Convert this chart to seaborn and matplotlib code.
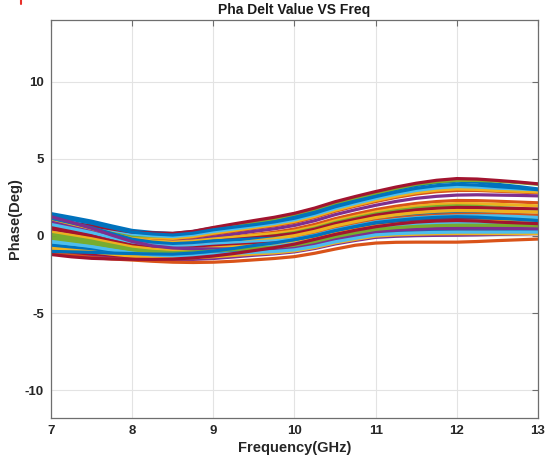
import matplotlib
matplotlib.use("Agg")
import matplotlib.pyplot as plt
from matplotlib.lines import Line2D
import pandas as pd
import seaborn as sns

# Measurement frequencies (GHz), 0.25 GHz step
freq_ghz = [7.00, 7.25, 7.50, 7.75, 8.00, 8.25, 8.50, 8.75, 9.00, 9.25, 9.50, 9.75, 10.00,
            10.25, 10.50, 10.75, 11.00, 11.25, 11.50, 11.75, 12.00, 12.25, 12.50, 12.75, 13.00]

# Phase delta per channel (deg), one list per channel
ch01 = [1.45, 1.21, 0.96, 0.65, 0.36, 0.23, 0.16, 0.29, 0.52, 0.70, 0.88, 1.05, 1.28, 1.62, 2.04, 2.39, 2.71, 3.01, 3.27, 3.46, 3.55, 3.49, 3.35, 3.21, 3.05]
ch02 = [0.70, 0.53, 0.35, 0.13, -0.08, -0.17, -0.22, -0.11, 0.10, 0.29, 0.48, 0.65, 0.88, 1.20, 1.60, 1.93, 2.23, 2.50, 2.72, 2.87, 2.95, 2.95, 2.90, 2.85, 2.80]
ch03 = [0.85, 0.66, 0.47, 0.23, 0.00, -0.10, -0.15, -0.03, 0.18, 0.36, 0.54, 0.72, 0.95, 1.27, 1.67, 2.00, 2.31, 2.58, 2.81, 2.97, 3.05, 3.02, 2.95, 2.90, 2.85]
ch04 = [0.40, 0.25, 0.10, -0.09, -0.27, -0.35, -0.39, -0.28, -0.08, 0.11, 0.30, 0.46, 0.68, 0.99, 1.38, 1.70, 1.99, 2.24, 2.44, 2.57, 2.65, 2.67, 2.65, 2.63, 2.60]
ch05 = [0.55, 0.43, 0.31, 0.15, 0.01, 0.00, 0.03, 0.15, 0.35, 0.61, 0.88, 1.12, 1.42, 1.75, 2.15, 2.48, 2.78, 3.08, 3.35, 3.51, 3.60, 3.60, 3.55, 3.46, 3.35]
ch06 = [1.10, 0.88, 0.66, 0.39, 0.13, 0.02, -0.04, 0.08, 0.29, 0.46, 0.63, 0.81, 1.05, 1.38, 1.78, 2.11, 2.43, 2.71, 2.95, 3.11, 3.20, 3.17, 3.10, 3.05, 3.00]
ch07 = [1.00, 0.83, 0.66, 0.45, 0.25, 0.20, 0.17, 0.30, 0.55, 0.78, 1.00, 1.21, 1.47, 1.81, 2.22, 2.56, 2.88, 3.17, 3.42, 3.61, 3.72, 3.69, 3.60, 3.50, 3.38]
ch08 = [1.30, 1.07, 0.83, 0.53, 0.25, 0.13, 0.06, 0.18, 0.40, 0.57, 0.73, 0.91, 1.15, 1.48, 1.89, 2.23, 2.55, 2.84, 3.09, 3.26, 3.35, 3.30, 3.20, 3.11, 3.00]
ch09 = [0.20, 0.06, -0.08, -0.26, -0.42, -0.50, -0.54, -0.44, -0.25, -0.08, 0.09, 0.24, 0.45, 0.75, 1.12, 1.43, 1.71, 1.93, 2.11, 2.23, 2.30, 2.29, 2.25, 2.20, 2.15]
ch10 = [0.95, 0.70, 0.45, 0.13, -0.17, -0.32, -0.40, -0.33, -0.20, -0.08, 0.05, 0.16, 0.32, 0.61, 0.98, 1.27, 1.55, 1.76, 1.93, 2.04, 2.10, 2.09, 2.05, 2.00, 1.95]
ch11 = [0.05, -0.12, -0.28, -0.49, -0.68, -0.78, -0.83, -0.76, -0.64, -0.51, -0.38, -0.27, -0.11, 0.16, 0.50, 0.78, 1.03, 1.20, 1.32, 1.41, 1.45, 1.42, 1.35, 1.28, 1.20]
ch12 = [-0.10, -0.22, -0.34, -0.49, -0.63, -0.70, -0.73, -0.65, -0.49, -0.32, -0.15, 0.01, 0.22, 0.50, 0.87, 1.16, 1.43, 1.63, 1.79, 1.90, 1.95, 1.92, 1.85, 1.78, 1.70]
ch13 = [0.30, 0.12, -0.06, -0.29, -0.51, -0.61, -0.67, -0.60, -0.46, -0.33, -0.20, -0.08, 0.09, 0.37, 0.72, 1.00, 1.27, 1.45, 1.60, 1.70, 1.75, 1.72, 1.65, 1.60, 1.55]
ch14 = [0.60, 0.38, 0.16, -0.11, -0.37, -0.50, -0.57, -0.49, -0.35, -0.23, -0.12, 0.00, 0.16, 0.44, 0.80, 1.08, 1.35, 1.54, 1.69, 1.79, 1.85, 1.84, 1.80, 1.78, 1.75]
ch15 = [1.15, 0.85, 0.54, 0.16, -0.21, -0.40, -0.50, -0.44, -0.32, -0.26, -0.19, -0.15, -0.04, 0.23, 0.57, 0.85, 1.11, 1.28, 1.41, 1.51, 1.55, 1.52, 1.45, 1.38, 1.30]
ch16 = [-0.55, -0.63, -0.72, -0.83, -0.92, -0.98, -1.01, -0.94, -0.80, -0.64, -0.48, -0.34, -0.14, 0.13, 0.47, 0.74, 0.99, 1.15, 1.27, 1.35, 1.40, 1.41, 1.40, 1.38, 1.35]
ch17 = [-0.30, -0.40, -0.51, -0.65, -0.77, -0.84, -0.87, -0.79, -0.65, -0.49, -0.33, -0.18, 0.02, 0.30, 0.65, 0.93, 1.19, 1.37, 1.51, 1.60, 1.65, 1.64, 1.60, 1.58, 1.55]
ch18 = [0.90, 0.58, 0.27, -0.12, -0.49, -0.69, -0.80, -0.76, -0.69, -0.68, -0.66, -0.64, -0.57, -0.33, -0.01, 0.24, 0.47, 0.58, 0.67, 0.73, 0.75, 0.74, 0.70, 0.65, 0.60]
ch19 = [-0.20, -0.34, -0.48, -0.66, -0.83, -0.92, -0.97, -0.91, -0.79, -0.67, -0.55, -0.44, -0.27, -0.02, 0.32, 0.59, 0.83, 0.98, 1.09, 1.16, 1.20, 1.21, 1.20, 1.18, 1.15]
ch20 = [0.75, 0.49, 0.22, -0.11, -0.43, -0.60, -0.69, -0.63, -0.52, -0.45, -0.38, -0.32, -0.21, 0.05, 0.39, 0.66, 0.91, 1.06, 1.18, 1.26, 1.30, 1.31, 1.30, 1.26, 1.20]
ch21 = [0.45, 0.22, -0.02, -0.32, -0.60, -0.75, -0.83, -0.77, -0.67, -0.60, -0.53, -0.46, -0.34, -0.09, 0.25, 0.51, 0.75, 0.89, 1.00, 1.07, 1.10, 1.09, 1.05, 1.00, 0.95]
ch22 = [-0.75, -0.83, -0.91, -1.01, -1.10, -1.16, -1.19, -1.13, -1.01, -0.88, -0.74, -0.60, -0.41, -0.16, 0.17, 0.43, 0.67, 0.80, 0.90, 0.97, 1.00, 0.99, 0.95, 0.90, 0.85]
ch23 = [-0.90, -0.98, -1.05, -1.15, -1.23, -1.29, -1.32, -1.27, -1.18, -1.06, -0.93, -0.81, -0.64, -0.40, -0.08, 0.16, 0.39, 0.50, 0.58, 0.63, 0.65, 0.66, 0.65, 0.63, 0.60]
ch24 = [0.25, 0.04, -0.18, -0.45, -0.71, -0.85, -0.92, -0.87, -0.78, -0.70, -0.63, -0.56, -0.44, -0.19, 0.14, 0.40, 0.63, 0.76, 0.86, 0.92, 0.95, 0.96, 0.95, 0.93, 0.90]
ch25 = [-1.10, -1.18, -1.26, -1.36, -1.45, -1.52, -1.55, -1.52, -1.46, -1.36, -1.25, -1.16, -1.03, -0.81, -0.52, -0.29, -0.09, -0.02, 0.02, 0.04, 0.05, 0.07, 0.10, 0.12, 0.15]
ch26 = [0.10, -0.11, -0.33, -0.60, -0.86, -1.00, -1.08, -1.04, -0.97, -0.91, -0.85, -0.79, -0.70, -0.46, -0.15, 0.09, 0.31, 0.42, 0.48, 0.53, 0.55, 0.56, 0.55, 0.53, 0.50]
ch27 = [-0.45, -0.58, -0.70, -0.87, -1.01, -1.09, -1.14, -1.09, -0.99, -0.88, -0.77, -0.67, -0.51, -0.27, 0.06, 0.31, 0.55, 0.67, 0.76, 0.82, 0.85, 0.86, 0.85, 0.83, 0.80]
ch28 = [-1.00, -1.08, -1.15, -1.25, -1.34, -1.41, -1.44, -1.40, -1.32, -1.21, -1.09, -0.99, -0.84, -0.61, -0.30, -0.07, 0.15, 0.25, 0.30, 0.33, 0.35, 0.36, 0.35, 0.33, 0.30]
ch29 = [-0.60, -0.73, -0.85, -1.02, -1.16, -1.25, -1.30, -1.26, -1.18, -1.09, -0.99, -0.91, -0.77, -0.54, -0.23, 0.01, 0.23, 0.33, 0.39, 0.43, 0.45, 0.46, 0.45, 0.43, 0.40]
ch30 = [-1.05, -1.25, -1.40, -1.49, -1.56, -1.64, -1.70, -1.72, -1.70, -1.64, -1.55, -1.46, -1.34, -1.12, -0.85, -0.60, -0.46, -0.41, -0.40, -0.40, -0.40, -0.36, -0.30, -0.25, -0.20]
ch31 = [-0.80, -0.92, -1.03, -1.18, -1.31, -1.39, -1.44, -1.41, -1.35, -1.26, -1.17, -1.10, -0.97, -0.75, -0.45, -0.22, -0.01, 0.07, 0.11, 0.14, 0.15, 0.15, 0.15, 0.15, 0.15]
ch32 = [1.25, 0.89, 0.50, 0.05, -0.36, -0.64, -0.78, -0.83, -0.84, -0.84, -0.82, -0.80, -0.74, -0.50, -0.20, 0.05, 0.27, 0.37, 0.44, 0.48, 0.50, 0.51, 0.50, 0.48, 0.45]
ch33 = [-0.15, -0.32, -0.50, -0.72, -0.92, -1.04, -1.10, -1.05, -0.97, -0.88, -0.80, -0.73, -0.60, -0.36, -0.05, 0.20, 0.43, 0.54, 0.62, 0.67, 0.70, 0.70, 0.70, 0.70, 0.70]
ch34 = [-0.35, -0.52, -0.69, -0.91, -1.11, -1.23, -1.29, -1.26, -1.20, -1.13, -1.06, -1.01, -0.90, -0.68, -0.38, -0.15, 0.07, 0.15, 0.20, 0.23, 0.25, 0.25, 0.25, 0.25, 0.25]
ch35 = [-1.20, -1.35, -1.45, -1.49, -1.51, -1.52, -1.50, -1.42, -1.30, -1.14, -0.95, -0.76, -0.53, -0.22, 0.10, 0.37, 0.60, 0.77, 0.90, 0.97, 1.00, 0.97, 0.90, 0.85, 0.80]
ch36 = [-1.00, -1.03, -1.06, -1.11, -1.14, -1.17, -1.18, -1.11, -0.98, -0.81, -0.62, -0.45, -0.24, 0.02, 0.35, 0.62, 0.87, 1.01, 1.13, 1.21, 1.25, 1.22, 1.15, 1.08, 1.00]

channels = [ch01, ch02, ch03, ch04, ch05, ch06, ch07, ch08, ch09, ch10, ch11, ch12,
            ch13, ch14, ch15, ch16, ch17, ch18, ch19, ch20, ch21, ch22, ch23, ch24,
            ch25, ch26, ch27, ch28, ch29, ch30, ch31, ch32, ch33, ch34, ch35, ch36]

x_ticks = [7, 8, 9, 10, 11, 12, 13]
y_ticks = [-10, -5, 0, 5, 10]

# MATLAB default line colour order, cycled over the channels
line_order = ["#0072BD", "#D95319", "#EDB120", "#7E2F8E", "#77AC30", "#4DBEEE", "#A2142F"]

rows = []
for idx, values in enumerate(channels):
    for f, v in zip(freq_ghz, values):
        rows.append({"ch": f"ch{idx + 1:02d}", "freq": f, "phase": v})
df = pd.DataFrame(rows)
names = [f"ch{i + 1:02d}" for i in range(len(channels))]
palette = {n: line_order[i % len(line_order)] for i, n in enumerate(names)}

sns.set_style("white")
plt.rcParams["font.family"] = ["Liberation Sans", "DejaVu Sans"]
plt.rcParams["font.weight"] = "bold"
plt.rcParams["axes.unicode_minus"] = False

fig = plt.figure(figsize=(5.46, 4.63), dpi=100)
ax = fig.add_axes([51 / 546, 1 - 418 / 463, (538 - 51) / 546, (418 - 20) / 463])

sns.lineplot(data=df, x="freq", y="phase", hue="ch", hue_order=names, palette=palette,
             estimator=None, sort=False, legend=False, linewidth=2.3, ax=ax)

ax.set_xlim(7, 13)
ax.set_ylim(-11.8, 14)
ax.set_xticks(x_ticks)
ax.set_yticks(y_ticks)
ax.grid(True, color="#e3e3e3", linewidth=0.8)
ax.set_axisbelow(True)
for s in ax.spines.values():
    s.set_color("#6e6e6e")
    s.set_linewidth(0.9)
ax.tick_params(direction="in", length=4, width=0.8, color="#6e6e6e",
               top=True, right=True, labelsize=9.5, pad=5, labelcolor="#262626")
for lab in ax.get_xticklabels() + ax.get_yticklabels():
    lab.set_fontweight("bold")

ax.set_title("Pha Delt Value VS Freq", fontsize=10, fontweight="bold", color="#1a1a1a", pad=4)
ax.set_xlabel("Frequency(GHz)", fontsize=10.5, fontweight="bold", color="#262626", labelpad=3)
ax.set_ylabel("Phase(Deg)", fontsize=10.5, fontweight="bold", color="#262626", labelpad=2)

# small red stroke in the upper-left corner
fig.add_artist(Line2D([21 / 546, 21 / 546], [1.0, 1 - 4 / 463], color="#e8302a", linewidth=1.5))

fig.savefig("out.png", dpi=100, facecolor="white")
